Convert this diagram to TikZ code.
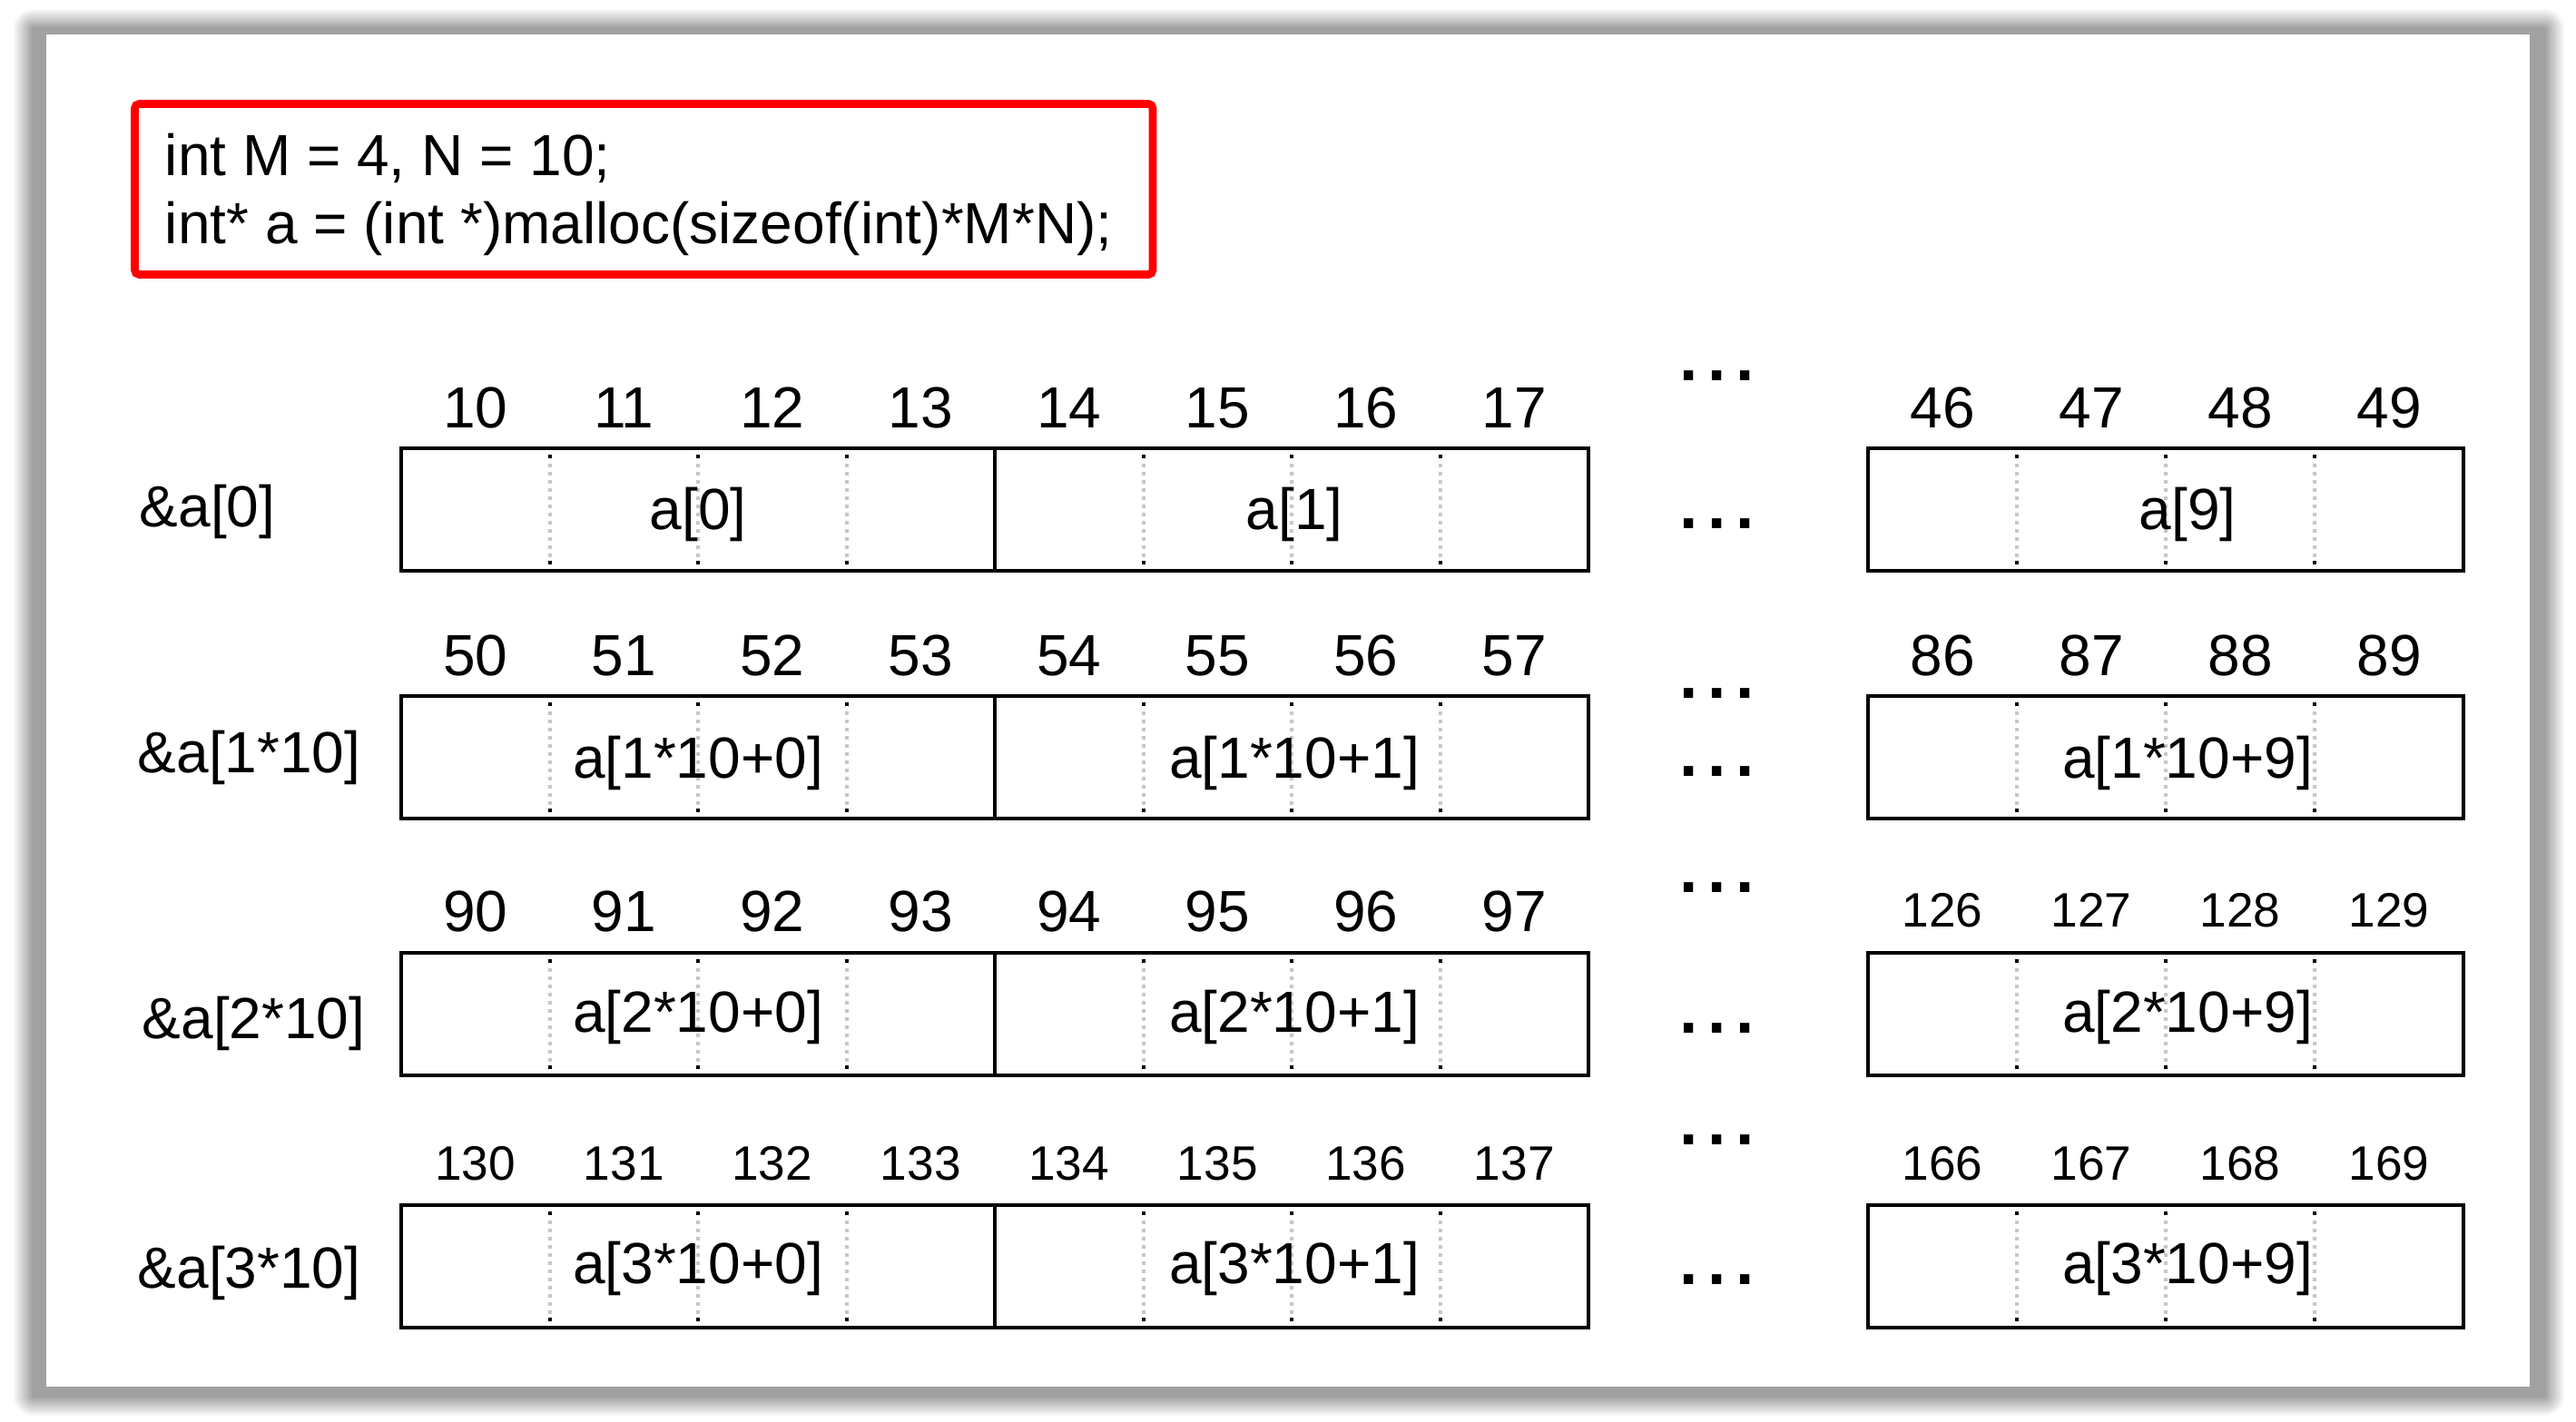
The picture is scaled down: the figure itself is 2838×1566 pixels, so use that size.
\documentclass[tikz,border=0pt]{standalone}
\usepackage{fontspec}
\setmainfont{Liberation Sans}
\begin{document}
\begin{tikzpicture}[x=0.25pt,y=-0.25pt,
  txt/.style={inner sep=0pt, anchor=base, font=\fontsize{16}{18}\selectfont},
  smalltxt/.style={inner sep=0pt, anchor=base, font=\fontsize{13.3}{15}\selectfont},
  dotstxt/.style={inner sep=0pt, anchor=base, text height=3pt, text depth=0pt, font=\fontsize{18.25}{20}\selectfont\bfseries},
  boxline/.style={line width=1.15pt, draw=black},
  sepline/.style={black!22, line width=1pt, dash pattern=on 1pt off 1.25pt},
  codebox/.style={draw=red, line width=2.15pt, rounded corners=1.2pt}]
\useasboundingbox (0,0) rectangle (2838,1566);
% page shadow
\foreach \k in {0,...,10} {
  \pgfmathsetmacro\e{2*(10-\k)}
  \pgfmathtruncatemacro\c{37*(\k+1)/11}
  \pgfmathsetmacro\r{0.25*\e+0.5}
  \fill[black!\c, rounded corners=\r pt] (35-\e,30-\e) rectangle (2805+\e,1540+\e);
}
\fill[white] (51,38) rectangle (2787,1528);
% code box
\draw[codebox] (148.5,114.5) rectangle (1270,302.5);
\node[txt, anchor=base west] (code1) at (181,193) {int M = 4, N = 10;};
\node[txt, anchor=base west] (code2) at (181,268) {int* a = (int *)malloc(sizeof(int)*M*N);};
% rows
\foreach \r/\t/\nb/\rb/\lf/\rf/\eb/\lb/\lx in {
  0/494/471/471/txt/txt/583/580/153,
  1/767/744/744/txt/txt/857/851/151,
  2/1050/1026/1021/txt/smalltxt/1137/1144/156,
  3/1328/1300/1300/smalltxt/smalltxt/1414/1419/151} {
  \pgfmathsetmacro\bt{\t+135}
  \draw[boxline] (442,\t) rectangle (1750,\bt);
  \draw[boxline] (1096,\t) -- (1096,\bt);
  \draw[boxline] (2058,\t) rectangle (2714,\bt);
  \foreach \x in {605.5,769,932.5,1259.5,1423,1586.5,2222,2386,2550} {
    \draw[sepline] (\x,\t+17) -- (\x,\t+121);
    \fill[black] (\x-2,\t+7) rectangle (\x+2,\t+11);
    \fill[black] (\x-2,\t+124) rectangle (\x+2,\t+128);
  }
  \foreach \i in {0,...,7} {
    \pgfmathtruncatemacro\n{10+40*\r+\i}
    \node[\lf] (n\r-\i) at (442+163.5*\i+81.75,\nb) {\n};
  }
  \foreach \j in {0,...,3} {
    \pgfmathtruncatemacro\n{46+40*\r+\j}
    \node[\rf] (m\r-\j) at (2058+164*\j+82,\rb) {\n};
  }
  \ifnum\r=0
    \node[txt] (e\r-0) at (769,\eb) {a[0]};
    \node[txt] (e\r-1) at (1426,\eb) {a[1]};
    \node[txt] (e\r-9) at (2410,\eb) {a[9]};
    \node[txt, anchor=base west] (lab\r) at (\lx,\lb) {\&a[0]};
  \else
    \node[txt] (e\r-0) at (769,\eb) {a[\r*10+0]};
    \node[txt] (e\r-1) at (1426,\eb) {a[\r*10+1]};
    \node[txt] (e\r-9) at (2410,\eb) {a[\r*10+9]};
    \node[txt, anchor=base west] (lab\r) at (\lx,\lb) {\&a[\r*10]};
  \fi
}
% ellipses
\foreach \y [count=\q] in {414,577,764,850,978,1133,1256,1410} {
  \node[dotstxt] (dots\q) at (1891.5,\y+5) {.\kern2.7pt.\kern2.7pt.};
}
\end{tikzpicture}
\end{document}
